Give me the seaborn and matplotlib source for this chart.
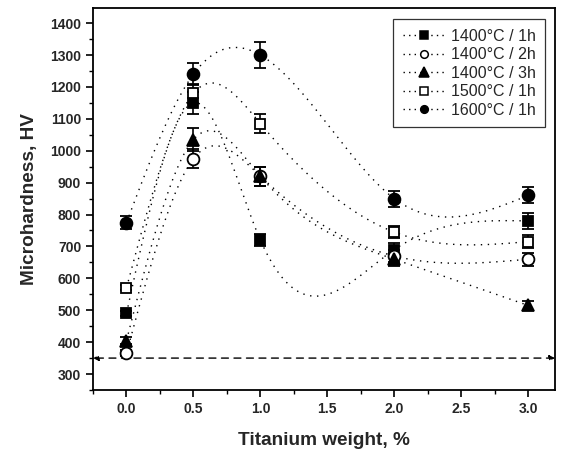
import numpy as np
import pandas as pd
import matplotlib
matplotlib.use("Agg")
import matplotlib.pyplot as plt
from matplotlib.lines import Line2D
from matplotlib.ticker import MultipleLocator
import seaborn as sns

titanium = [0.0, 0.5, 1.0, 2.0, 3.0]
series_names = ["1400°C / 1h", "1400°C / 2h", "1400°C / 3h", "1500°C / 1h", "1600°C / 1h"]
hv_1400_1h = [490, 1150, 720, 690, 780]
hv_1400_2h = [365, 975, 920, 670, 660]
hv_1400_3h = [405, 1035, 920, 660, 515]
hv_1500_1h = [570, 1180, 1085, 745, 715]
hv_1600_1h = [775, 1240, 1300, 850, 860]
err_1400_1h = [8, 35, 20, 20, 25]
err_1400_2h = [10, 30, 30, 20, 20]
err_1400_3h = [10, 35, 30, 20, 15]
err_1500_1h = [8, 30, 30, 20, 20]
err_1600_1h = [20, 35, 40, 25, 25]
reference_hv = 350

values = [hv_1400_1h, hv_1400_2h, hv_1400_3h, hv_1500_1h, hv_1600_1h]
errors = [err_1400_1h, err_1400_2h, err_1400_3h, err_1500_1h, err_1600_1h]
markers = ["s", "o", "^", "s", "o"]
filled = [True, False, True, False, True]


def natural_spline(x, y, n=200):
    """Natural cubic spline through (x, y), evaluated on a fine grid."""
    x = np.asarray(x, float)
    y = np.asarray(y, float)
    k = len(x)
    h = np.diff(x)
    A = np.zeros((k, k))
    b = np.zeros(k)
    A[0, 0] = A[-1, -1] = 1.0
    for i in range(1, k - 1):
        A[i, i - 1] = h[i - 1]
        A[i, i] = 2 * (h[i - 1] + h[i])
        A[i, i + 1] = h[i]
        b[i] = 6 * ((y[i + 1] - y[i]) / h[i] - (y[i] - y[i - 1]) / h[i - 1])
    M = np.linalg.solve(A, b)
    xs = np.linspace(x[0], x[-1], n)
    idx = np.clip(np.searchsorted(x, xs, side="right") - 1, 0, k - 2)
    x0, x1 = x[idx], x[idx + 1]
    hh = x1 - x0
    t0, t1 = x1 - xs, xs - x0
    ys = (M[idx] * t0**3 / (6 * hh) + M[idx + 1] * t1**3 / (6 * hh)
          + (y[idx] / hh - M[idx] * hh / 6) * t0
          + (y[idx + 1] / hh - M[idx + 1] * hh / 6) * t1)
    return xs, ys


sns.set_style("ticks")
plt.rcParams["font.family"] = ["Liberation Sans", "DejaVu Sans"]

fig = plt.figure(figsize=(5.62, 4.54), dpi=100)
ax = fig.add_axes([0.1655, 0.141, 0.822, 0.841])

curves = []
for name, v in zip(series_names, values):
    xs, ys = natural_spline(titanium, v)
    curves.append(pd.DataFrame({"x": xs, "y": ys, "series": name}))
curve_df = pd.concat(curves, ignore_index=True)
sns.lineplot(data=curve_df, x="x", y="y", units="series", estimator=None,
             color="black", linestyle=(0, (1, 4)), linewidth=1.0, ax=ax,
             legend=False)

handles = []
for name, v, e, m, f in zip(series_names, values, errors, markers, filled):
    ms = 8.5 if m == "o" else 7.5
    if m == "^":
        ms = 9
    ax.errorbar(titanium, v, yerr=e, fmt=m, ms=ms, mec="black",
                mfc="black" if f else "white", mew=1.3, ecolor="black",
                elinewidth=1.2, capsize=4, capthick=1.2, zorder=3)
    handles.append(Line2D([], [], color="black", linestyle=(0, (1, 3)),
                          linewidth=1.0, marker=m, ms=5.5 if m != "^" else 6.5,
                          mfc="black" if f else "white", mec="black", mew=1.1))

ax.annotate("", xy=(-0.25, reference_hv), xytext=(3.2, reference_hv),
            arrowprops=dict(arrowstyle="<|-|>", color="black", lw=1.0,
                            linestyle=(0, (5, 4)), mutation_scale=8,
                            shrinkA=0, shrinkB=0))

ax.set_xlim(-0.25, 3.2)
ax.set_ylim(250, 1447)
ax.xaxis.set_major_locator(MultipleLocator(0.5))
ax.xaxis.set_minor_locator(MultipleLocator(0.25))
ax.yaxis.set_major_locator(MultipleLocator(100))
ax.yaxis.set_minor_locator(MultipleLocator(50))
ax.set_yticks(np.arange(300, 1401, 100))
ax.set_xticks(np.arange(0, 3.01, 0.5))
ax.set_xticklabels([f"{t:.1f}" for t in np.arange(0, 3.01, 0.5)])
ax.tick_params(which="major", direction="out", length=5, width=1.2,
               labelsize=10, color="black")
ax.tick_params(which="minor", direction="out", length=3, width=1.0, color="black")
for lab in ax.get_xticklabels() + ax.get_yticklabels():
    lab.set_fontweight("bold")
for sp in ax.spines.values():
    sp.set_linewidth(1.3)
    sp.set_color("black")
    sp.set_visible(True)

ax.set_xlabel("Titanium weight, %", fontsize=13.7, fontweight="bold", labelpad=12)
ax.set_ylabel("Microhardness, HV", fontsize=13.7, fontweight="bold", labelpad=9)

leg = ax.legend(handles, series_names, loc="upper right", fontsize=11.5,
                frameon=True, fancybox=False, edgecolor="black",
                handlelength=2.7, handletextpad=0.3, borderpad=0.6,
                labelspacing=0.22, borderaxespad=0,
                bbox_to_anchor=(0.9785, 0.971))
leg.get_frame().set_linewidth(0.9)

fig.savefig("out.png", dpi=100)
